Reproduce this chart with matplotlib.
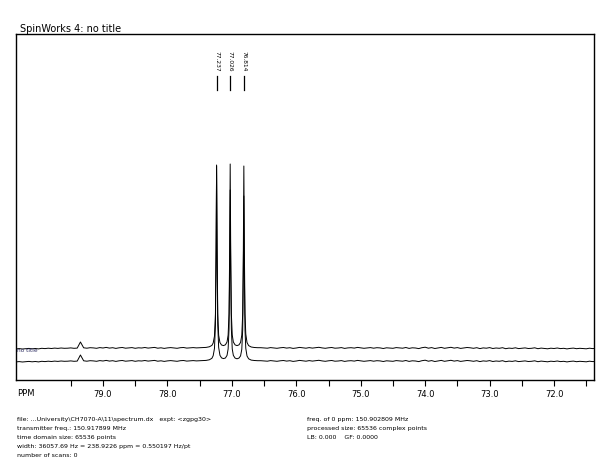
import numpy as np
import matplotlib
matplotlib.use("Agg")
import matplotlib.pyplot as plt
from matplotlib.ticker import FixedLocator, FormatStrFormatter

plt.rcParams['font.family'] = ['DejaVu Sans']

# ---------------- data ----------------
title = "SpinWorks 4: no title"
peak_ppm = [77.237, 77.026, 76.814]
peak_labels = ["77.237", "77.026", "76.814"]

# baseline noise (px-like intensity units), left part: 80.35 -> 77.50 ppm, step 0.05
left_start, step = 80.35, 0.05
left_noise = [-0.9, -0.6, -1.0, -0.7, -0.4, -0.8, -0.5, -0.9, -0.3, -0.6,
              -0.2, -0.5, -0.1, -0.4, 0.0, -0.3, -0.2, 0.1, -0.3, -0.1,
              6.0,
              0.2, -0.2, 0.3, 0.1, -0.3, 0.4, 0.0, 0.6, -0.1, 0.3,
              -0.4, 0.2, 0.5, -0.2, 0.1, 0.4, -0.3, 0.2, 0.0, 0.5,
              -0.1, 0.3, 0.6, -0.2, 0.2, -0.4, 0.1, 0.4, 0.0, -0.3,
              0.3, 0.5, -0.1, 0.2, 0.4, 0.1, 0.3]
# right part: 76.55 -> 71.35 ppm, step 0.05
right_start = 76.55
right_noise = [0.3, 0.1, -0.2, 0.4, 0.0, -0.3, 0.2, 0.5, -0.1, 0.3,
               -0.4, 0.0, 0.6, 0.2, -0.2, 0.4, -0.1, 0.3, 0.7, 0.1,
               -0.3, 0.2, 0.5, -0.2, 0.0, 0.4, -0.4, 0.1, 0.3, -0.1,
               0.6, 0.2, -0.3, 0.0, 0.4, -0.2, 0.3, 0.1, -0.5, 0.2,
               0.0, -0.3, 0.4, 0.1, -0.2, 0.5, -0.4, 0.2, 0.0, -0.6,
               0.3, 0.8, -0.2, 0.4, -0.5, 0.1, 0.6, -0.3, 0.2, 0.7,
               -0.1, 0.4, -0.4, 0.0, 0.5, 0.2, -0.3, 0.3, -0.6, 0.1,
               -0.2, 0.4, -0.5, 0.0, -0.3, 0.3, -0.7, -0.1, -0.4, 0.2,
               -0.6, -0.2, 0.1, -0.5, -0.3, 0.2, -0.7, -0.1, -0.4, -0.8,
               -0.2, -0.5, 0.0, -0.6, -0.3, -0.9, -0.4, -0.1, -0.7, -0.3,
               -0.5, -0.8, -0.2, -0.6, -0.4]

# triplet region (77.45 -> 76.60 ppm)
region_ppm = [77.45, 77.40, 77.35, 77.31, 77.29, 77.27, 77.255, 77.245, 77.237,
              77.229, 77.219, 77.205, 77.185, 77.16, 77.13, 77.10, 77.075, 77.058,
              77.044, 77.034, 77.026, 77.018, 77.008, 76.994, 76.977, 76.95, 76.92,
              76.89, 76.865, 76.846, 76.832, 76.822, 76.814, 76.806, 76.796, 76.784,
              76.765, 76.74, 76.70, 76.65, 76.60]
region_upper = [0.4, 0.6, 1.2, 2.6, 5.0, 11.8, 34, 98, 183,
                98, 34.3, 12.8, 5.4, 3.0, 2.4, 3.2, 6.0, 12.9,
                34.3, 98, 184, 98, 34.3, 12.9, 6.0, 3.1, 2.4,
                3.1, 5.6, 12.8, 34, 97, 182, 97, 34, 14,
                5.5, 2.4, 1.0, 0.5, 0.3]
region_lower = [0.4, 0.6, 1.2, 2.7, 5.3, 12.5, 36, 104, 195,
                104, 36.5, 13.6, 5.7, 3.1, 2.4, 3.0, 5.6, 12.0,
                32, 91, 171, 91, 32, 12.0, 5.6, 2.9, 2.2,
                2.9, 5.1, 11.6, 31, 88, 165, 88, 31, 12.7,
                5.0, 2.2, 0.9, 0.5, 0.3]

upper_offset = 32   # baseline of the upper trace
lower_offset = 19   # baseline of the lower trace

xticks_major = [79.0, 78.0, 77.0, 76.0, 75.0, 74.0, 73.0, 72.0]
xticks_minor = [79.5, 78.5, 77.5, 76.5, 75.5, 74.5, 73.5, 72.5, 71.5]

footer_left = ["file: ...University\\CH7070-A\\11\\spectrum.dx   expt: <zgpg30>",
               "transmitter freq.: 150.917899 MHz",
               "time domain size: 65536 points",
               "width: 36057.69 Hz = 238.9226 ppm = 0.550197 Hz/pt",
               "number of scans: 0"]
footer_right = ["freq. of 0 ppm: 150.902809 MHz",
                "processed size: 65536 complex points",
                "LB: 0.000    GF: 0.0000"]

# ---------------- build traces ----------------
left_ppm = left_start - step * np.arange(len(left_noise))
right_ppm = right_start - step * np.arange(len(right_noise))
ppm = np.concatenate([left_ppm, region_ppm, right_ppm])
up = np.concatenate([left_noise, region_upper, right_noise]) + upper_offset
lo = np.concatenate([left_noise, region_lower, right_noise]) + lower_offset

# ---------------- figure ----------------
W, H = 602, 462
fig = plt.figure(figsize=(W / 100, H / 100), dpi=100)
ax = fig.add_axes([16 / W, 82 / H, 578 / W, 346 / H])
ax.plot(ppm, up, color='black', lw=0.7)
ax.plot(ppm, lo, color='black', lw=0.7)
ax.set_xlim(80.35, 71.38)
ax.set_ylim(0, 346)

for s in ax.spines.values():
    s.set_linewidth(1.0)
ax.set_yticks([])
ax.xaxis.set_major_locator(FixedLocator(xticks_major))
ax.xaxis.set_minor_locator(FixedLocator(xticks_minor))
ax.xaxis.set_major_formatter(FormatStrFormatter('%.1f'))
ax.tick_params(axis='x', which='both', direction='out', length=4.5, width=0.8,
               labelsize=6, pad=3, colors='black')

# peak labels
for p, lab in zip(peak_ppm, peak_labels):
    ax.plot([p, p], [290, 304], color='black', lw=0.9)
    ax.text(p, 319, lab, rotation=-90, ha='center', va='center', fontsize=4.2)

ax.text(80.33, 30, "no title", fontsize=4.2, ha='left', va='center', color='#333366')

fig.text(20 / W, 1 - 29 / H, title, fontsize=7, ha='left', va='center')
fig.text(17 / W, 1 - 393 / H, "PPM", fontsize=6, ha='left', va='center')

for k, line in enumerate(footer_left):
    fig.text(17 / W, 1 - (419 + 9.2 * k) / H, line, fontsize=4.5, ha='left', va='center')
for k, line in enumerate(footer_right):
    fig.text(307 / W, 1 - (419 + 9.2 * k) / H, line, fontsize=4.5, ha='left', va='center')

fig.savefig("out.png", dpi=100)
